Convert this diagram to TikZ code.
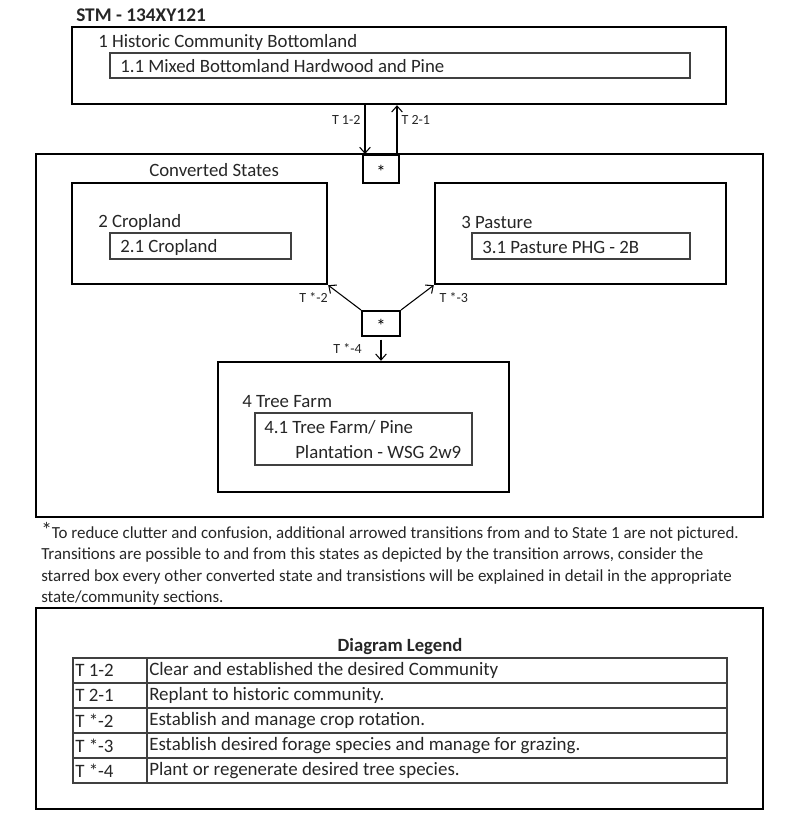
\documentclass[tikz,border=0pt]{standalone}
\usepackage{fontspec}
\setmainfont{Carlito}
\usetikzlibrary{fit,arrows.meta}

\tikzset{
  statebox/.style={draw=black, line width=1.8pt, inner sep=0pt},
  phasebox/.style={draw=black!75, line width=1.1pt, inner sep=0pt},
  starbox/.style={draw=black, line width=1.5pt, inner sep=0pt, font=\fontsize{14}{12}\selectfont},
  cellbox/.style={draw=black!75, line width=1pt, inner sep=0pt},
  trans/.style={-{Straight Barb[length=4.5pt, width=8pt]}, line width=0.8pt},
  txt/.style={anchor=west, inner sep=0pt, text=black!85, font=\fontsize{14.1}{16}\selectfont},
  tlabel/.style={inner sep=0pt, text=black!85, font=\fontsize{10.5}{12}\selectfont},
  notetxt/.style={anchor=west, inner sep=0pt, text=black!85, font=\fontsize{12.7}{14}\selectfont},
  celltxt/.style={anchor=west, inner sep=0pt, text=black!85, font=\fontsize{14.2}{16}\selectfont},
}
\newcommand{\starmark}{\raisebox{-7pt}[0pt][0pt]{*}}

\begin{document}
\begin{tikzpicture}[x=0.75pt, y=-0.75pt]
        \useasboundingbox (0,0) rectangle (800,836);

        % Title
        \node[txt, font=\fontsize{14.5}{16}\selectfont\bfseries] (title) at (76,15) {STM - 134XY121};

        % State 1 (historic)
        \node[statebox, fit={(72,27) (726,104)}] (s1) {};
        \node[txt] (s1name) at (98,42) {1 Historic Community Bottomland};
        \node[phasebox, fit={(110,53) (690,78)}] (p11) {};
        \node[txt] (p11name) at (120,66) {1.1 Mixed Bottomland Hardwood and Pine};

        % Converted states
        \node[statebox, fit={(36,154) (763,517)}] (conv) {};
        \node[txt] (convname) at (149,170) {Converted States};
        \node[starbox, fill=white, fit={(363,155) (399,183)}] (star1) {\starmark};

        % State 2
        \node[statebox, fit={(72,183) (327,284)}] (s2) {};
        \node[txt] (s2name) at (98,222) {2 Cropland};
        \node[phasebox, fit={(110,233) (291,259)}] (p21) {};
        \node[txt] (p21name) at (120,247) {2.1 Cropland};

        % State 3
        \node[statebox, fit={(435,183) (726,284)}] (s3) {};
        \node[txt] (s3name) at (461,222) {3 Pasture};
        \node[phasebox, fit={(472,233) (690,259)}] (p31) {};
        \node[txt] (p31name) at (482,247) {3.1 Pasture PHG - 2B};

        % Starred box between converted states
        \node[starbox, fit={(362,311) (400,336)}] (star2) {\starmark};

        % State 4
        \node[statebox, fit={(218,362) (509,492)}] (s4) {};
        \node[txt] (s4name) at (242,402) {4 Tree Farm};
        \node[phasebox, fit={(255,413) (472,465)}] (p41) {};
        \node[txt] (p41name) at (264,427) {4.1 Tree Farm/ Pine};
        \node[txt] (p41more) at (295,452) {Plantation - WSG 2w9};

        % Transitions
        \coordinate (t12end) at ([xshift=2.25pt]star1.north west);
        \coordinate (t21start) at ([xshift=-2.25pt]star1.north east);
        \draw[trans] (s1.south -| t12end) -- (t12end)
            node[tlabel, anchor=east, xshift=-3pt, pos=0.31] {T 1-2};
        \draw[trans] (t21start) -- (s1.south -| t21start)
            node[tlabel, anchor=west, xshift=3pt, pos=0.69] {T 2-1};
        \draw[trans] (star2.north west) -- (s2.south east)
            node[tlabel, anchor=east, yshift=-9pt, pos=1] {T *-2};
        \draw[trans] (star2.north east) -- (s3.south west)
            node[tlabel, anchor=west, xshift=4pt, yshift=-9pt, pos=1] {T *-3};
        \draw[trans] ([yshift=-2pt]star2.south) -- (s4.north -| star2.south)
            node[tlabel, anchor=east, xshift=-14pt, pos=0.42] {T *-4};

        % Footnote
        \node[notetxt] (note1) at (41,532) {{\fontsize{16}{14}\selectfont\raisebox{1pt}{*}}To reduce clutter and confusion, additional arrowed transitions from and to State 1 are not pictured.};
        \node[notetxt] (note2) at (41,555) {Transitions are possible to and from this states as depicted by the transition arrows, consider the};
        \node[notetxt] (note3) at (41,577) {starred box every other converted state and transistions will be explained in detail in the appropriate};
        \node[notetxt] (note4) at (41,598) {state/community sections.};

        % Legend
        \node[statebox, fit={(36,608) (763,809)}] (legend) {};
        \node[celltxt, anchor=center, font=\fontsize{14}{15}\selectfont\bfseries] (legtitle) at (400,647) {Diagram Legend};
        \foreach \code/\desc [count=\i from 0] in {
            T 1-2/Clear and established the desired Community,
            T 2-1/Replant to historic community.,
            T *-2/Establish and manage crop rotation.,
            T *-3/Establish desired forage species and manage for grazing.,
            T *-4/Plant or regenerate desired tree species.} {
          \node[cellbox, fit={(73,{658+25*\i}) (147,{683+25*\i})}] (code\i) {};
          \node[cellbox, fit={(147,{658+25*\i}) (727,{683+25*\i})}] (desc\i) {};
          \node[celltxt] at ([xshift=2pt]code\i.west) {\code};
          \node[celltxt] at ([xshift=2pt]desc\i.west) {\desc};
        }
\end{tikzpicture}
\end{document}
